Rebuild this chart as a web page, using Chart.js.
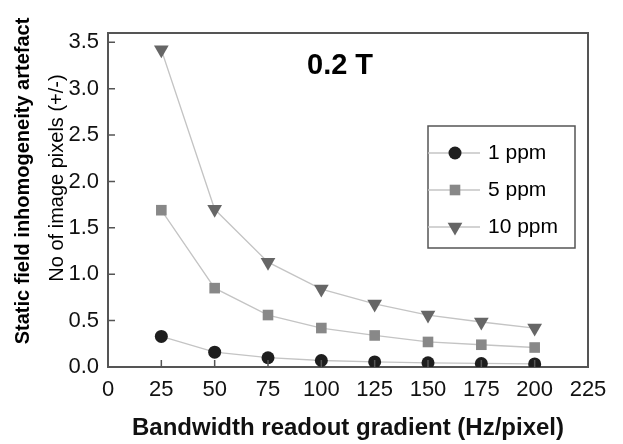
<!DOCTYPE html>
<html>
<head>
<meta charset="utf-8">
<script src="https://cdn.jsdelivr.net/npm/chart.js@4/dist/chart.umd.min.js"></script>
<style>
  html, body { margin: 0; padding: 0; background: #fff; }
  #wrap { width: 623px; height: 444px; }
</style>
</head>
<body>
<div id="wrap"><canvas id="chart" width="623" height="444"></canvas></div>
<script>
// data
const bandwidths = [25, 50, 75, 100, 125, 150, 175, 200];
const ppm1  = [0.33, 0.16, 0.10, 0.07, 0.055, 0.045, 0.038, 0.033];
const ppm5  = [1.69, 0.85, 0.56, 0.42, 0.34, 0.27, 0.24, 0.21];
const ppm10 = [3.42, 1.70, 1.13, 0.84, 0.68, 0.56, 0.485, 0.42];
const seriesLabels = ['1 ppm', '5 ppm', '10 ppm'];
const xTickValues = [0, 25, 50, 75, 100, 125, 150, 175, 200, 225];
const yTickValues = [0, 0.5, 1.0, 1.5, 2.0, 2.5, 3.0, 3.5];
const fieldLabel = '0.2 T';
const yTitleOuter = 'Static field inhomogeneity artefact';
const yTitleInner = 'No of image pixels (+/-)';
const xTitle = 'Bandwidth readout gradient (Hz/pixel)';

const FONT = "'Liberation Sans', Arial, sans-serif";
const AXIS = '#555';
const LINE = '#c4c4c4';

const toXY = vals => vals.map((v, i) => ({ x: bandwidths[i], y: v }));

const styles = [
  { color: '#1e1e1e', pointStyle: 'circle', radius: 6.5, rotation: 0 },
  { color: '#888888', pointStyle: 'rect', radius: 7.5, rotation: 0 },
  { color: '#666666', pointStyle: 'triangle', radius: 8.5, rotation: 180 },
];

const datasets = [ppm1, ppm5, ppm10].map((vals, i) => ({
  label: seriesLabels[i],
  data: toXY(vals),
  borderColor: LINE,
  borderWidth: 1.3,
  backgroundColor: styles[i].color,
  pointBackgroundColor: styles[i].color,
  pointBorderWidth: 0,
  pointStyle: styles[i].pointStyle,
  pointRadius: styles[i].radius,
  pointRotation: styles[i].rotation,
  tension: 0,
}));

// ── frame, inward ticks, titles and boxed legend ─────────────
const decorPlugin = {
  id: 'decor',
  afterDraw(chart) {
    const { ctx, chartArea: a, scales } = chart;
    ctx.save();
    ctx.strokeStyle = AXIS;
    ctx.lineWidth = 2;
    ctx.beginPath();
    ctx.moveTo(a.left, a.top); ctx.lineTo(a.right, a.top); ctx.lineTo(a.right, a.bottom);
    ctx.stroke();

    // inward tick marks
    ctx.lineWidth = 1.5;
    ctx.beginPath();
    scales.x.ticks.forEach(t => {
      if (t.value === 0) return;
      const px = scales.x.getPixelForValue(t.value);
      ctx.moveTo(px, a.bottom); ctx.lineTo(px, a.bottom - 7);
    });
    scales.y.ticks.forEach(t => {
      if (t.value === 0) return;
      const py = scales.y.getPixelForValue(t.value);
      ctx.moveTo(a.left, py); ctx.lineTo(a.left + 7, py);
    });
    ctx.stroke();

    // field strength label
    ctx.fillStyle = '#000';
    ctx.font = 'bold 29px ' + FONT;
    ctx.textAlign = 'left';
    ctx.textBaseline = 'middle';
    ctx.fillText(fieldLabel, 307, 66);

    // y titles
    ctx.save();
    ctx.translate(23, 181);
    ctx.rotate(-Math.PI / 2);
    ctx.textAlign = 'center';
    ctx.font = 'bold 20px ' + FONT;
    ctx.fillText(yTitleOuter, 0, 0);
    ctx.restore();
    ctx.save();
    ctx.translate(57, 178);
    ctx.rotate(-Math.PI / 2);
    ctx.textAlign = 'center';
    ctx.font = '20px ' + FONT;
    ctx.fillText(yTitleInner, 0, 0);
    ctx.restore();

    // legend box
    const lx = 428, ly = 126, lw = 147, lh = 122;
    ctx.strokeStyle = AXIS;
    ctx.lineWidth = 1.5;
    ctx.strokeRect(lx, ly, lw, lh);
    const rows = [153, 190, 227];
    chart.data.datasets.forEach((ds, i) => {
      const cy = rows[i];
      ctx.strokeStyle = LINE;
      ctx.lineWidth = 1.3;
      ctx.beginPath();
      ctx.moveTo(lx, cy); ctx.lineTo(lx + 52, cy);
      ctx.stroke();
      ctx.fillStyle = ds.pointBackgroundColor;
      Chart.helpers.drawPoint(ctx, {
        pointStyle: ds.pointStyle, radius: ds.pointRadius,
        rotation: ds.pointRotation, borderWidth: 0,
      }, lx + 27, cy);
      ctx.fillStyle = '#000';
      ctx.font = '21px ' + FONT;
      ctx.textAlign = 'left';
      ctx.textBaseline = 'middle';
      ctx.fillText(ds.label, lx + 60, cy);
    });
    ctx.restore();
  }
};

new Chart(document.getElementById('chart'), {
  type: 'line',
  data: { datasets },
  plugins: [decorPlugin],
  options: {
    responsive: false,
    animation: false,
    layout: { padding: { top: 33, right: 35, left: 0, bottom: 0 } },
    plugins: { legend: { display: false }, tooltip: { enabled: false } },
    scales: {
      x: {
        type: 'linear', min: 0, max: 225,
        afterFit: s => { s.height = 77; },
        afterBuildTicks: s => { s.ticks = xTickValues.map(v => ({ value: v })); },
        grid: { display: false, drawTicks: false },
        border: { display: true, color: AXIS, width: 2 },
        ticks: {
          autoSkip: false, maxRotation: 0, padding: 10,
          color: '#111', font: { family: FONT, size: 22 },
        },
        title: {
          display: true, text: xTitle, color: '#111',
          font: { family: FONT, size: 24, weight: 'bold' },
          padding: { top: 0, bottom: 1 },
        },
      },
      y: {
        type: 'linear', min: 0, max: 3.6,
        afterFit: s => { s.width = 108; },
        afterBuildTicks: s => { s.ticks = yTickValues.map(v => ({ value: v })); },
        grid: { display: false, drawTicks: false },
        border: { display: true, color: AXIS, width: 2 },
        ticks: {
          padding: 9,
          color: '#111', font: { family: FONT, size: 22 },
          callback: v => v.toFixed(1),
        },
      },
    },
  },
});
</script>
</body>
</html>
